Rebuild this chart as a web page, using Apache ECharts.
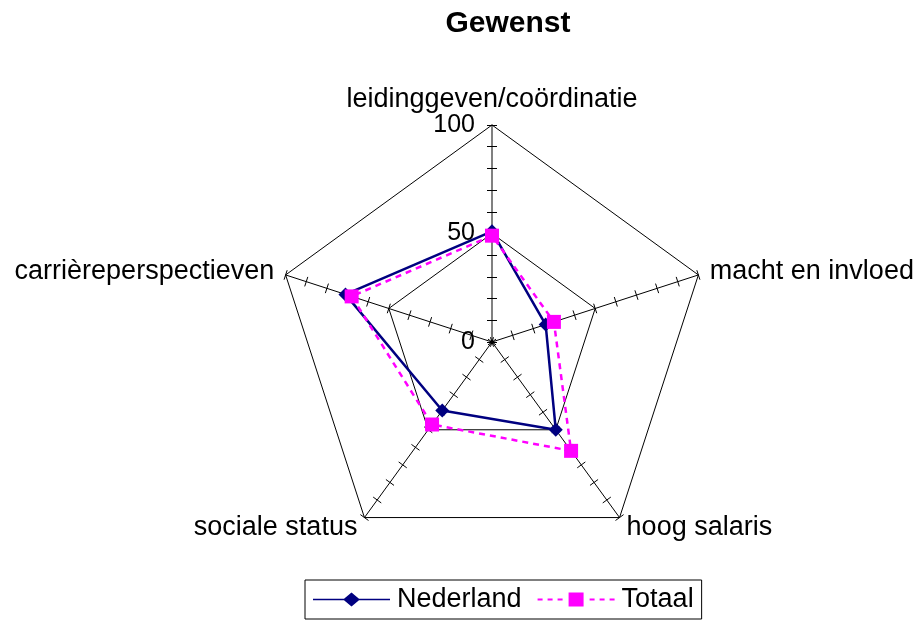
<!DOCTYPE html>
<html>
<head>
<meta charset="utf-8">
<script src="https://cdn.jsdelivr.net/npm/echarts@6/dist/echarts.min.js"></script>
<style>html,body{margin:0;padding:0;background:#fff;}#c{width:919px;height:622px;}</style>
</head>
<body>
<div id="c"></div>
<script>
// Categories listed clockwise starting at the top
var categories = ['leidinggeven/coördinatie', 'macht en invloed', 'hoog salaris', 'sociale status', 'carrièreperspectieven'];
var nederland = [51, 26, 50, 39, 71];
var totaal = [49, 30, 62, 47, 68];
var tickLabels = [0, 50, 100];
var axisMax = 100;

// ECharts places radar indicators counter-clockwise; reorder so the picture reads clockwise
var order = [0, 4, 3, 2, 1];
function reorder(a) { return order.map(function (i) { return a[i]; }); }

var FONT = '"Liberation Sans", Arial, sans-serif';
var center = [492, 342];
var radius = 217;

// legend icons: line with marker (77 x 14 box)
var iconNederland = 'path://M0,6.2 L31,6.2 L38.5,0 L46,6.2 L77,6.2 L77,7.8 L46,7.8 L38.5,14 L31,7.8 L0,7.8 Z';
var iconTotaal = 'path://M0,6 h5 v2 h-5 Z M10,6 h5 v2 h-5 Z M20,6 h5 v2 h-5 Z M31,0 h15 v14 h-15 Z M52,6 h5 v2 h-5 Z M62,6 h5 v2 h-5 Z M72,6 h5 v2 h-5 Z';

function indicators(withLabel) {
  return reorder(categories).map(function (n, i) {
    var o = { name: n, min: tickLabels[0], max: axisMax };
    if (i === 0) {
      o.axisLine = { lineStyle: { color: '#808080', width: 2 } };
      if (withLabel) o.axisLabel = { show: true };
    }
    return o;
  });
}

var baseRadar = {
  center: center, radius: radius, shape: 'polygon', startAngle: 90,
  splitArea: { show: false }
};

var chart = echarts.init(document.getElementById('c'), null, { renderer: 'canvas' });
chart.setOption({
  backgroundColor: '#ffffff',
  animation: false,
  title: {
    text: 'Gewenst', left: 503, top: 4, textAlign: 'center',
    textStyle: { fontFamily: FONT, fontSize: 30, fontWeight: 'bold', color: '#000' }
  },
  legend: {
    left: 305, top: 580,
    padding: [6, 8, 6, 8],
    borderColor: '#000', borderWidth: 1,
    itemWidth: 77, itemHeight: 14, itemGap: 16,
    textStyle: { fontFamily: FONT, fontSize: 27, color: '#000', padding: [0, 0, 0, 2] },
    data: [
      { name: 'Nederland', icon: iconNederland },
      { name: 'Totaal', icon: iconTotaal }
    ]
  },
  radar: [
    Object.assign({}, baseRadar, {
      indicator: indicators(true),
      splitNumber: 2,
      axisName: { show: true, color: '#000', fontFamily: FONT, fontSize: 27 },
      nameGap: 12,
      axisLine: { show: true, lineStyle: { color: '#000', width: 1 } },
      axisTick: { show: false },
      axisLabel: { show: false, color: '#000', fontFamily: FONT, fontSize: 25, margin: 17 },
      splitLine: { show: true, lineStyle: { color: '#000', width: 1 } }
    }),
    Object.assign({}, baseRadar, {
      indicator: indicators(false),
      splitNumber: 10,
      axisName: { show: false },
      axisLine: { show: false },
      axisTick: { show: true, length: 5, lineStyle: { color: '#000', width: 1 } },
      axisLabel: { show: false },
      splitLine: { show: false }
    }),
    Object.assign({}, baseRadar, {
      indicator: indicators(false),
      splitNumber: 10,
      axisName: { show: false },
      axisLine: { show: false },
      axisTick: { show: true, length: -5, lineStyle: { color: '#000', width: 1 } },
      axisLabel: { show: false },
      splitLine: { show: false }
    })
  ],
  series: [{
    type: 'radar',
    radarIndex: 0,
    z: 5,
    data: [
      {
        name: 'Nederland', value: reorder(nederland),
        symbol: 'diamond', symbolSize: 14,
        lineStyle: { color: '#000080', width: 2.5, type: 'solid' },
        itemStyle: { color: '#000080' }
      },
      {
        name: 'Totaal', value: reorder(totaal),
        symbol: 'rect', symbolSize: 14,
        lineStyle: { color: '#FF00FF', width: 2.5, type: [6, 5] },
        itemStyle: { color: '#FF00FF' }
      }
    ]
  }]
});
</script>
</body>
</html>
